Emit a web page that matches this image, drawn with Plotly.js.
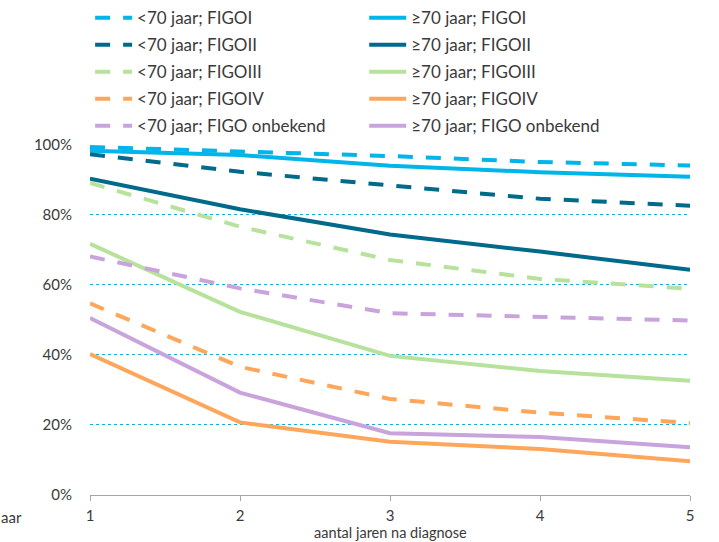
<!DOCTYPE html>
<html>
<head>
<meta charset="utf-8">
<script src="https://cdn.plot.ly/plotly-3.0.1.min.js"></script>
<style>html,body{margin:0;padding:0;background:#fff;}#chart{width:719px;height:542px;}</style>
</head>
<body>
<div id="chart"></div>
<script>
// categories: years since diagnosis
const years = [1, 2, 3, 4, 5];

// survival (fraction) per group
const under70_FIGOI   = [0.993, 0.981, 0.967, 0.950, 0.940];
const over70_FIGOI    = [0.982, 0.970, 0.939, 0.921, 0.908];
const under70_FIGOII  = [0.972, 0.922, 0.883, 0.845, 0.825];
const over70_FIGOII   = [0.902, 0.815, 0.743, 0.694, 0.642];
const under70_FIGOIII = [0.890, 0.765, 0.670, 0.616, 0.588];
const over70_FIGOIII  = [0.716, 0.522, 0.396, 0.353, 0.325];
const under70_FIGOIV  = [0.546, 0.365, 0.273, 0.234, 0.204];
const over70_FIGOIV   = [0.401, 0.206, 0.151, 0.130, 0.095];
const under70_onb     = [0.680, 0.589, 0.518, 0.508, 0.497];
const over70_onb      = [0.504, 0.291, 0.175, 0.164, 0.135];

const names = [
  "<70 jaar; FIGOI", "≥70 jaar; FIGOI",
  "<70 jaar; FIGOII", "≥70 jaar; FIGOII",
  "<70 jaar; FIGOIII", "≥70 jaar; FIGOIII",
  "<70 jaar; FIGOIV", "≥70 jaar; FIGOIV",
  "<70 jaar; FIGO onbekend", "≥70 jaar; FIGO onbekend"
];
const series = [under70_FIGOI, over70_FIGOI, under70_FIGOII, over70_FIGOII,
  under70_FIGOIII, over70_FIGOIII, under70_FIGOIV, over70_FIGOIV, under70_onb, over70_onb];
const colors = ["#00B5EA", "#00B5EA", "#006A8B", "#006A8B", "#B6E29C", "#B6E29C",
  "#FFA65A", "#FFA65A", "#C9A3DB", "#C9A3DB"];

const yTicks = [0, 0.2, 0.4, 0.6, 0.8, 1.0];
const yTickLabels = ["0%", "20%", "40%", "60%", "80%", "100%"];
const xTitle = "aantal jaren na diagnose";
const edgeText = "aar";

const traces = series.map((s, i) => ({
  x: years,
  y: s,
  type: "scatter",
  mode: "lines",
  name: names[i],
  legend: i % 2 === 0 ? "legend" : "legend2",
  legendgroup: "g" + i,
  line: { color: colors[i], width: 4, dash: i % 2 === 0 ? "15px,13px" : "solid" },
  cliponaxis: false,
  hoverinfo: "skip"
}));

const font = { family: "Lato, 'Open Sans', sans-serif", size: 15, color: "#3a3a3a" };
const legendFont = { family: "Lato, 'Open Sans', sans-serif", size: 17, color: "#3a3a3a" };
const titleFont = { family: "Lato, 'Open Sans', sans-serif", size: 14.5, color: "#3a3a3a" };

const legendCommon = {
  orientation: "v",
  yanchor: "top",
  xanchor: "left",
  y: 1.4094,
  font: legendFont,
  bgcolor: "rgba(0,0,0,0)",
  borderwidth: 0,
  tracegroupgap: 1.9,
  traceorder: "grouped",
  itemwidth: 37
};

// half-pixel offset so the dotted grid lines fall on whole pixels
const half = 0.5 / 350;

const layout = {
  width: 719,
  height: 542,
  margin: { l: 90, r: 29, t: 144, b: 47, autoexpand: false },
  paper_bgcolor: "#ffffff",
  plot_bgcolor: "#ffffff",
  font: font,
  showlegend: true,
  legend: Object.assign({}, legendCommon, { x: 0.0002 }),
  legend2: Object.assign({}, legendCommon, { x: 0.457 }),
  xaxis: {
    range: [1, 5],
    tickvals: years,
    ticktext: years.map(String),
    showgrid: false,
    zeroline: false,
    showline: true,
    linecolor: "#a6a6a6",
    linewidth: 1,
    ticks: "outside",
    ticklen: 5,
    tickcolor: "#a6a6a6",
    ticklabelstandoff: 2,
    tickfont: font
  },
  yaxis: {
    range: [-half, 1 + half],
    tickvals: yTicks,
    ticktext: yTickLabels,
    showgrid: true,
    gridcolor: "#00B5EA",
    gridwidth: 1,
    griddash: "dot",
    zeroline: false,
    showline: false,
    ticks: "outside",
    ticklen: 14,
    tickcolor: "rgba(0,0,0,0)",
    tickfont: font
  },
  annotations: [{
    text: xTitle,
    xref: "paper", yref: "paper",
    x: 0.5, y: 1 - (532 - 144) / 351,
    xanchor: "center", yanchor: "middle",
    showarrow: false,
    font: titleFont
  }, {
    text: edgeText,
    xref: "paper", yref: "paper",
    x: -91 / 600, y: 1 - (517 - 144) / 351,
    xanchor: "left", yanchor: "middle",
    showarrow: false,
    font: font
  }]
};

Plotly.newPlot("chart", traces, layout, { displayModeBar: false, staticPlot: true });
</script>
</body>
</html>
